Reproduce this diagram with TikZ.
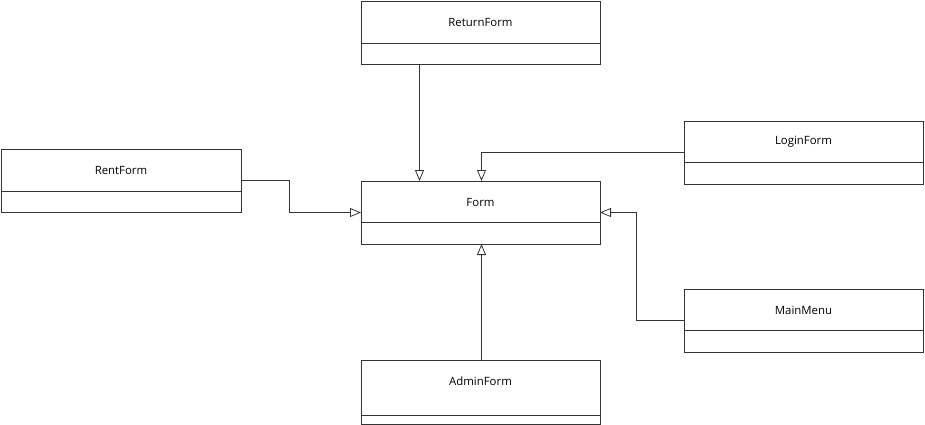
\documentclass[tikz,border=0pt]{standalone}
\usepackage{fontspec}
\setmainfont{Open Sans}
\usetikzlibrary{arrows.meta,calc}
\tikzset{
  clsbox/.style={draw=black!80, line width=0.9pt, rectangle, inner sep=0pt, outer sep=0pt},
  clslabel/.style={inner sep=0pt, font=\fontsize{11.4}{13}\selectfont, text=black},
  divline/.style={draw=black!80, line width=0.9pt},
  inh/.style={draw=black!80, line width=0.8pt, -{Triangle[open, length=11pt, width=9pt, line width=0.8pt]}}
}
% #1 name, #2 x1, #3 y1, #4 x2, #5 y2, #6 divider y, #7 label
\newcommand{\umlcls}[7]{%
  \node[clsbox, minimum width=#4-#2, minimum height=#5-#3] (#1) at ({(#2+#4)/2},{(#3+#5)/2}) {};
  \node[clslabel] (#1-lbl) at ({(#2+#4)/2},{#3+21}) {#7};
  \draw[divline] (#2,#6) -- (#4,#6);
}
\begin{document}
\begin{tikzpicture}[x=1pt,y=-1pt]
\useasboundingbox (0,0) rectangle (925,425);
\umlcls{ret}{361}{1}{600}{64}{43}{ReturnForm}
\umlcls{rent}{1}{149}{241}{212}{191}{RentForm}
\umlcls{form}{361}{181}{600}{244}{222}{Form}
\umlcls{login}{684}{121}{923}{184}{162}{LoginForm}
\umlcls{main}{684}{289}{923}{352}{330}{MainMenu}
\umlcls{admin}{361}{360}{600}{424}{415}{AdminForm}
\draw[inh] ([xshift=-61pt]ret.south) -- ([xshift=-61pt]form.north);
\draw[inh] (login.west) -| ([xshift=1pt]form.north);
\draw[inh] (rent.east) -- ++(48,0) |- (form.west);
\draw[inh] (main.west) -- ++(-48,0) |- (form.east);
\draw[inh] ([xshift=1pt]admin.north) -- ([xshift=1pt]form.south);
\end{tikzpicture}
\end{document}
